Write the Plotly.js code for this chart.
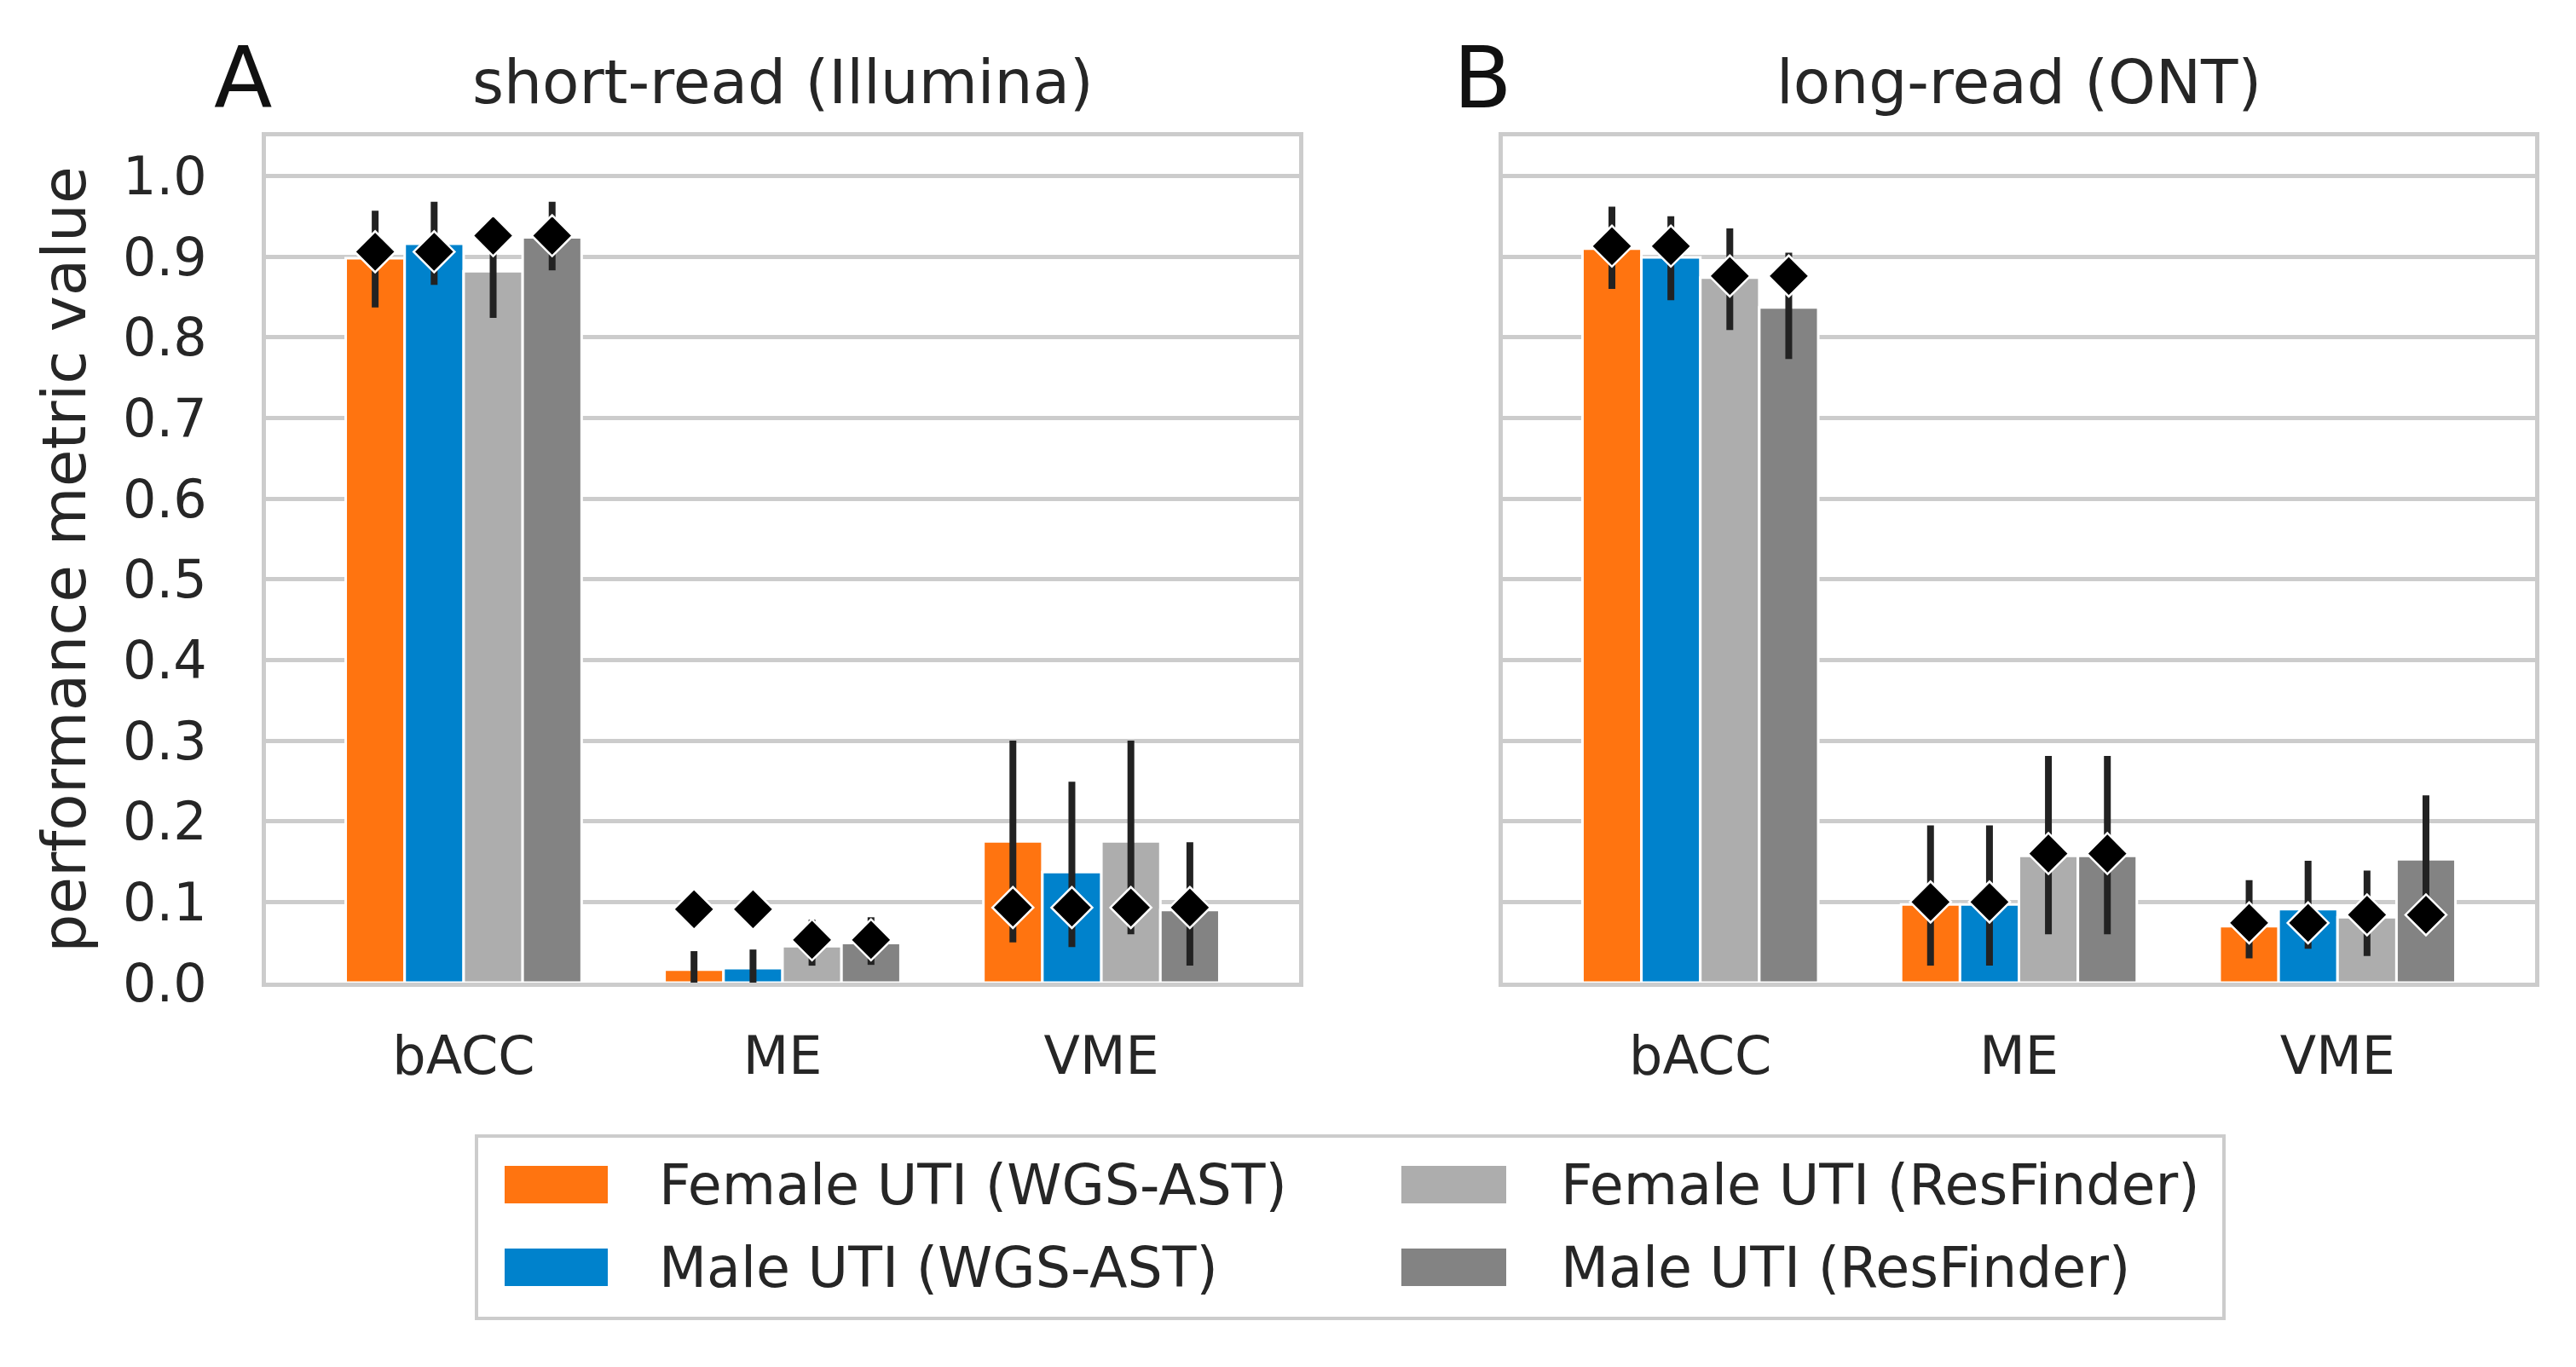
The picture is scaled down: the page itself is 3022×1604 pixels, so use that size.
<!DOCTYPE html>
<html>
<head>
<meta charset="utf-8">
<script src="https://cdn.plot.ly/plotly-3.0.1.min.js"></script>
<style>html,body{margin:0;padding:0;background:#fff;}#chart{width:3022px;height:1604px;}</style>
</head>
<body>
<div id="chart"></div>
<script>
// ---- data ----
const categories = ['bACC', 'ME', 'VME'];
const seriesNames = ['Female UTI (WGS-AST)', 'Male UTI (WGS-AST)', 'Female UTI (ResFinder)', 'Male UTI (ResFinder)'];
const seriesColors = ['#ff7410', '#0082cc', '#adadad', '#838383'];
const panelTitles = ['short-read (Illumina)', 'long-read (ONT)'];
const panelLetters = ['A', 'B'];
const yTickVals = [0, 0.1, 0.2, 0.3, 0.4, 0.5, 0.6, 0.7, 0.8, 0.9, 1.0];
const yTickText = ['0.0', '0.1', '0.2', '0.3', '0.4', '0.5', '0.6', '0.7', '0.8', '0.9', '1.0'];

// Panel A: short-read (Illumina)
const femaleWgsA = [0.898, 0.016, 0.175];
const femaleWgsA_lo = [0.837, 0.000, 0.050];
const femaleWgsA_hi = [0.957, 0.039, 0.300];
const maleWgsA = [0.916, 0.018, 0.137];
const maleWgsA_lo = [0.865, 0.000, 0.044];
const maleWgsA_hi = [0.968, 0.041, 0.249];
const femaleResA = [0.882, 0.045, 0.175];
const femaleResA_lo = [0.824, 0.021, 0.060];
const femaleResA_hi = [0.940, 0.078, 0.300];
const maleResA = [0.924, 0.049, 0.090];
const maleResA_lo = [0.883, 0.022, 0.021];
const maleResA_hi = [0.968, 0.081, 0.174];
const overallWgsA = [0.906, 0.091, 0.093];
const overallResA = [0.926, 0.053, 0.093];

// Panel B: long-read (ONT)
const femaleWgsB = [0.910, 0.097, 0.070];
const femaleWgsB_lo = [0.860, 0.021, 0.030];
const femaleWgsB_hi = [0.962, 0.195, 0.127];
const maleWgsB = [0.899, 0.097, 0.091];
const maleWgsB_lo = [0.846, 0.021, 0.042];
const maleWgsB_hi = [0.950, 0.195, 0.151];
const femaleResB = [0.874, 0.157, 0.081];
const femaleResB_lo = [0.809, 0.060, 0.033];
const femaleResB_hi = [0.935, 0.281, 0.139];
const maleResB = [0.837, 0.157, 0.153];
const maleResB_lo = [0.773, 0.060, 0.074];
const maleResB_hi = [0.905, 0.281, 0.232];
const overallWgsB = [0.913, 0.100, 0.074];
const overallResB = [0.876, 0.160, 0.084];

// ---- build ----
const panels = [
  {xa: 'x', ya: 'y', vals: [femaleWgsA, maleWgsA, femaleResA, maleResA],
   lo: [femaleWgsA_lo, maleWgsA_lo, femaleResA_lo, maleResA_lo],
   hi: [femaleWgsA_hi, maleWgsA_hi, femaleResA_hi, maleResA_hi],
   pts: [overallWgsA, overallWgsA, overallResA, overallResA]},
  {xa: 'x2', ya: 'y2', vals: [femaleWgsB, maleWgsB, femaleResB, maleResB],
   lo: [femaleWgsB_lo, maleWgsB_lo, femaleResB_lo, maleResB_lo],
   hi: [femaleWgsB_hi, maleWgsB_hi, femaleResB_hi, maleResB_hi],
   pts: [overallWgsB, overallWgsB, overallResB, overallResB]}
];

const traces = [];
panels.forEach((p, pi) => {
  p.vals.forEach((v, si) => {
    traces.push({
      type: 'bar', x: categories, y: v, xaxis: p.xa, yaxis: p.ya,
      name: seriesNames[si], showlegend: false,
      marker: {color: seriesColors[si], line: {color: '#ffffff', width: 3}},
      error_y: {type: 'data', symmetric: false,
        array: v.map((val, i) => p.hi[si][i] - val),
        arrayminus: v.map((val, i) => val - p.lo[si][i]),
        color: '#222222', thickness: 8, width: 0}
    });
  });
  p.pts.forEach((v, si) => {
    traces.push({
      type: 'scatter', mode: 'markers', x: categories, y: v, xaxis: p.xa, yaxis: p.ya,
      name: seriesNames[si] + ' (overall)', showlegend: false,
      marker: {symbol: 'diamond', color: '#000000', size: 37, line: {color: '#ffffff', width: 2.5}}
    });
  });
});

const fontFam = 'DejaVu Sans, sans-serif';
const txtCol = '#262626';
const gridCol = '#cccccc';

function xax(domain) {
  return {domain: domain, type: 'category', range: [-0.62, 2.62],
    showgrid: false, zeroline: false, showline: true, mirror: true, linecolor: gridCol, linewidth: 5,
    ticks: '', ticklabelstandoff: 28, tickfont: {family: fontFam, size: 62, color: txtCol}, fixedrange: true};
}
function yax(anchor, showLabels) {
  return {domain: [0.2812, 0.9002], anchor: anchor, range: [0, 1.049],
    tickvals: yTickVals, ticktext: yTickText, showticklabels: showLabels,
    showgrid: true, gridcolor: gridCol, gridwidth: 5, zeroline: false,
    showline: true, mirror: true, linecolor: gridCol, linewidth: 5,
    ticks: '', ticklabelstandoff: 52, tickfont: {family: fontFam, size: 62, color: txtCol}, fixedrange: true};
}

const annotations = [];
const shapes = [];
const xDomains = [[312 / 3022, 1524 / 3022], [1763 / 3022, 2974 / 3022]];
panelTitles.forEach((t, i) => {
  annotations.push({xref: 'paper', yref: 'paper', x: (xDomains[i][0] + xDomains[i][1]) / 2, y: 1 - 96 / 1604,
    text: t, showarrow: false, xanchor: 'center', yanchor: 'middle', font: {family: fontFam, size: 71, color: txtCol}});
});
[285, 1740].forEach((px, i) => {
  annotations.push({xref: 'paper', yref: 'paper', x: px / 3022, y: 1 - 92 / 1604,
    text: panelLetters[i], showarrow: false, xanchor: 'center', yanchor: 'middle', font: {family: fontFam, size: 100, color: '#111111'}});
});

// custom legend (two columns, column-major)
shapes.push({type: 'rect', xref: 'paper', yref: 'paper', x0: 559 / 3022, x1: 2609 / 3022,
  y0: 1 - 1547 / 1604, y1: 1 - 1333 / 1604, line: {color: gridCol, width: 4}, fillcolor: '#ffffff', layer: 'above'});
const legCols = [[592, 713, 771], [1644, 1767, 1829]];
const legRows = [1390, 1487];
seriesNames.forEach((n, si) => {
  const col = legCols[Math.floor(si / 2)];
  const row = legRows[si % 2];
  shapes.push({type: 'rect', xref: 'paper', yref: 'paper', x0: col[0] / 3022, x1: col[1] / 3022,
    y0: 1 - (row + 22) / 1604, y1: 1 - (row - 22) / 1604, line: {width: 0}, fillcolor: seriesColors[si], layer: 'above'});
  annotations.push({xref: 'paper', yref: 'paper', x: col[2] / 3022, y: 1 - row / 1604, text: n, showarrow: false,
    xanchor: 'left', yanchor: 'middle', font: {family: fontFam, size: 65, color: txtCol}});
});

const layout = {
  width: 3022, height: 1604,
  margin: {l: 0, r: 0, t: 0, b: 0},
  paper_bgcolor: '#ffffff', plot_bgcolor: '#ffffff',
  barmode: 'group', bargap: 0.26, bargroupgap: 0,
  scattermode: 'group', scattergap: 0.26,
  showlegend: false,
  xaxis: Object.assign(xax(xDomains[0]), {anchor: 'y'}),
  yaxis: Object.assign(yax('x', true), {title: {text: 'performance metric value', standoff: 22, font: {family: fontFam, size: 71, color: txtCol}}}),
  xaxis2: Object.assign(xax(xDomains[1]), {anchor: 'y2'}),
  yaxis2: yax('x2', false),
  annotations: annotations,
  shapes: shapes,
  font: {family: fontFam, color: txtCol}
};

Plotly.newPlot('chart', traces, layout, {displayModeBar: false, staticPlot: true});
</script>
</body>
</html>
